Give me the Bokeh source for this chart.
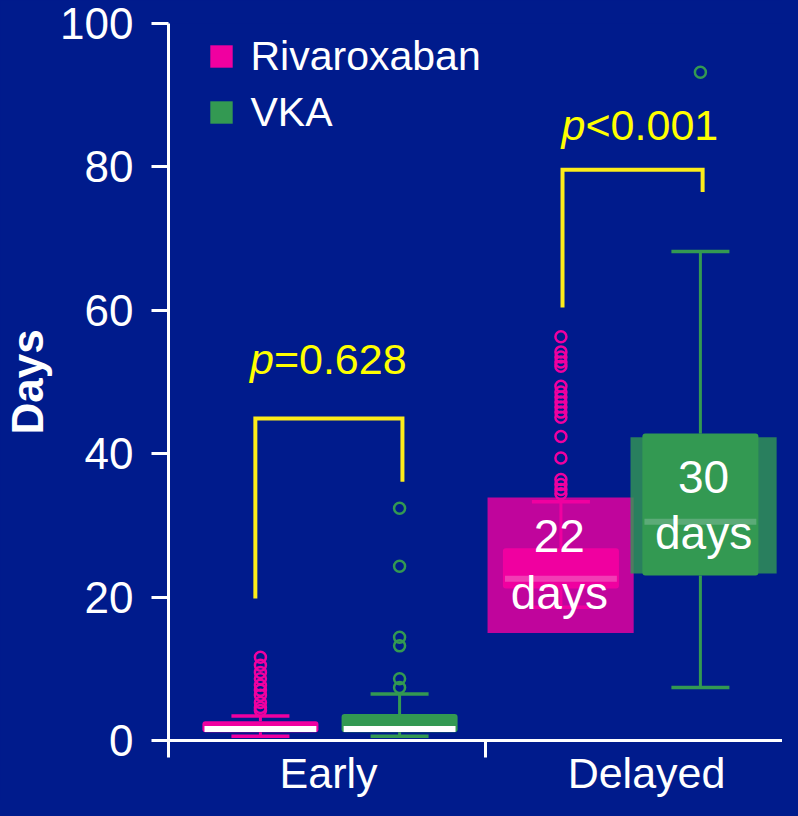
from bokeh.plotting import figure
from bokeh.models import Range1d, FixedTicker, Legend, LegendItem
from bokeh.core.properties import value
from bokeh.embed import file_html
from bokeh.resources import INLINE

# ---------------- data ----------------
groups = ["Early", "Delayed"]
group_label_pos = [0.505, 1.508]
group_bounds = [0.0, 1.0, 2.0]
y_ticks = [0, 20, 40, 60, 80, 100]

arms = ["Rivaroxaban", "VKA"]

# box positions (Early, Delayed) and statistics in days
riva_x = [0.290, 1.238]
riva_q1 = [1.15, 21.2]
riva_med = [1.6, 22.55]
riva_q3 = [2.7, 26.8]
riva_lo = [0.6, 18.6]
riva_hi = [3.4, 33.3]

vka_x = [0.729, 1.678]
vka_q1 = [1.15, 23.0]
vka_med = [1.6, 30.5]
vka_q3 = [3.7, 42.8]
vka_lo = [0.6, 7.4]
vka_hi = [6.5, 68.2]

# outliers
riva_out_early = [11.6, 10.5, 9.5, 8.6, 7.7, 7.0, 6.3, 5.3, 4.6, 4.2]
riva_out_delayed = [56.3, 54.2, 53.5, 52.8, 52.2, 49.4, 48.6, 47.9, 47.2, 46.5,
                    45.8, 45.1, 42.4, 39.4, 36.4, 35.7, 35.0, 34.4]
vka_out_early = [32.4, 24.3, 14.4, 13.2, 8.6, 7.4]
vka_out_delayed = [93.2]

# delayed-phase highlight bands (Rivaroxaban, VKA)
band_x = [1.237, 1.688]
band_bottom = [15.0, 23.3]
band_top = [33.9, 42.3]

# median annotations for the delayed phase (vertical centre of each line)
median_labels = ["22", "30"]
median_unit = ["days", "days"]
median_label_x = [1.233, 1.688]
median_label_y = [28.56, 36.82]
median_unit_y = [20.64, 29.0]

# p-value brackets (Early, Delayed)
p_texts = ["=0.628", "<0.001"]
bracket_left = [0.274, 1.243]
bracket_right = [0.738, 1.685]
bracket_top = [44.9, 79.6]
bracket_left_bottom = [19.8, 60.4]
bracket_right_bottom = [36.1, 76.5]
p_label_x = [0.3325, 1.3155]
p_label_y = [53.2, 85.9]

# ---------------- style ----------------
BG = "#001B8C"
PINK = "#F000A0"
GREEN = "#339952"
YELLOW_TXT = "#FFFF00"
YELLOW_LN = "#FCEC1A"
FONT = value("Liberation Sans")
BOX_W = 0.366
BAND_W = 0.461
CAP_W = 0.183
MED_W = 0.353

p = figure(width=782, height=800, x_range=Range1d(0, 1.937), y_range=Range1d(0, 100),
           output_backend="svg", toolbar_location=None,
           min_border_left=168, min_border_right=0, min_border_top=23, min_border_bottom=60,
           background_fill_color=BG, border_fill_color=BG, outline_line_color=None)
p.xgrid.visible = False
p.ygrid.visible = False

# highlight bands
p.vbar(x=band_x, width=BAND_W, bottom=band_bottom, top=band_top,
       fill_color=[PINK, GREEN], fill_alpha=0.8, line_color=None)

def draw_arm(xs, q1, med, q3, lo, hi, color, med_colors):
    p.segment(x0=xs, y0=q3, x1=xs, y1=hi, line_color=color, line_width=3)
    p.segment(x0=xs, y0=q1, x1=xs, y1=lo, line_color=color, line_width=3)
    cl = [x - CAP_W / 2 for x in xs]
    cr = [x + CAP_W / 2 for x in xs]
    p.segment(x0=cl, y0=hi, x1=cr, y1=hi, line_color=color, line_width=3.5)
    p.segment(x0=cl, y0=lo, x1=cr, y1=lo, line_color=color, line_width=3.5)
    p.vbar(x=xs, width=BOX_W, bottom=q1, top=q3, fill_color=color,
           line_color=None, border_radius=3)
    p.rect(x=xs, y=med, width=MED_W, height=6, height_units="screen",
           fill_color=med_colors, line_color=None)

draw_arm(riva_x, riva_q1, riva_med, riva_q3, riva_lo, riva_hi, PINK, ["#FFFFFF", "#F23CB5"])
draw_arm(vka_x, vka_q1, vka_med, vka_q3, vka_lo, vka_hi, GREEN, ["#FFFFFF", "#5CAB78"])

def outliers(x, vals, color):
    p.scatter(x=[x] * len(vals), y=vals, marker="circle", size=11,
              fill_color=None, line_color=color, line_width=2.5)

outliers(riva_x[0], riva_out_early, PINK)
outliers(riva_x[1], riva_out_delayed, PINK)
outliers(vka_x[0], vka_out_early, GREEN)
outliers(vka_x[1], vka_out_delayed, GREEN)

# median labels
p.text(x=median_label_x, y=median_label_y, text=median_labels, text_font=FONT,
       text_font_size="46px", text_color="white", text_align="center",
       text_baseline="middle")
p.text(x=median_label_x, y=median_unit_y, text=median_unit, text_font=FONT,
       text_font_size="46px", text_color="white", text_align="center",
       text_baseline="middle")

# brackets
xs = [[l, l, r, r] for l, r in zip(bracket_left, bracket_right)]
ys = [[lb, t, t, rb] for lb, t, rb in zip(bracket_left_bottom, bracket_top, bracket_right_bottom)]
p.multi_line(xs=xs, ys=ys, line_color=YELLOW_LN, line_width=4, line_join="miter")
p.text(x=p_label_x, y=p_label_y, text=["p", "p"], text_font=FONT, text_font_style="italic",
       text_font_size="43px", text_color=YELLOW_TXT, text_align="right",
       text_baseline="middle")
p.text(x=p_label_x, y=p_label_y, text=p_texts, text_font=FONT,
       text_font_size="43px", text_color=YELLOW_TXT, text_align="left",
       text_baseline="middle")

# legend (swatch renderers sit outside the visible range; only their legend glyph shows)
r_riva = p.scatter(x=[-1], y=[-50], marker="square", size=23, fill_color=PINK, line_color=None)
r_vka = p.scatter(x=[-1], y=[-50], marker="square", size=23, fill_color=GREEN, line_color=None)
legend = Legend(items=[LegendItem(label=arms[0], renderers=[r_riva]),
                       LegendItem(label=arms[1], renderers=[r_vka])],
                location=(24.5, 599.6), glyph_width=56, glyph_height=56, spacing=0,
                padding=0, margin=0, label_standoff=2, label_text_font_size="41px",
                label_text_color="white", label_text_font="Liberation Sans",
                background_fill_alpha=0, border_line_alpha=0)
p.add_layout(legend)

# axes
xa = p.xaxis[0]
xa.ticker = FixedTicker(ticks=group_label_pos, minor_ticks=group_bounds)
xa.major_label_overrides = {pos: g for pos, g in zip(group_label_pos, groups)}
xa.major_tick_out = 0
xa.major_tick_in = 0
xa.minor_tick_out = 17
xa.minor_tick_in = 0
xa.minor_tick_line_color = "white"
xa.minor_tick_line_width = 3
xa.axis_line_color = "white"
xa.axis_line_width = 3
xa.major_label_text_font = "Liberation Sans"
xa.major_label_text_font_size = "43px"
xa.major_label_text_color = "white"
xa.major_label_standoff = -9

ya = p.yaxis[0]
ya.ticker = FixedTicker(ticks=y_ticks)
ya.major_tick_out = 17
ya.major_tick_in = 0
ya.major_tick_line_color = "white"
ya.major_tick_line_width = 3
ya.axis_line_color = "white"
ya.axis_line_width = 3
ya.major_label_text_font = "Liberation Sans"
ya.major_label_text_font_size = "44px"
ya.major_label_text_color = "white"
ya.major_label_standoff = 18
ya.axis_label = "Days"
ya.axis_label_text_font = "Liberation Sans"
ya.axis_label_text_font_style = "bold"
ya.axis_label_text_font_size = "44px"
ya.axis_label_text_color = "white"
ya.axis_label_standoff = 5

html = file_html(p, INLINE)
html = html.replace("<head>", "<head><style>html,body{background-color:#001B8C;overflow:hidden;}</style>", 1)
open("out.html", "w").write(html)
